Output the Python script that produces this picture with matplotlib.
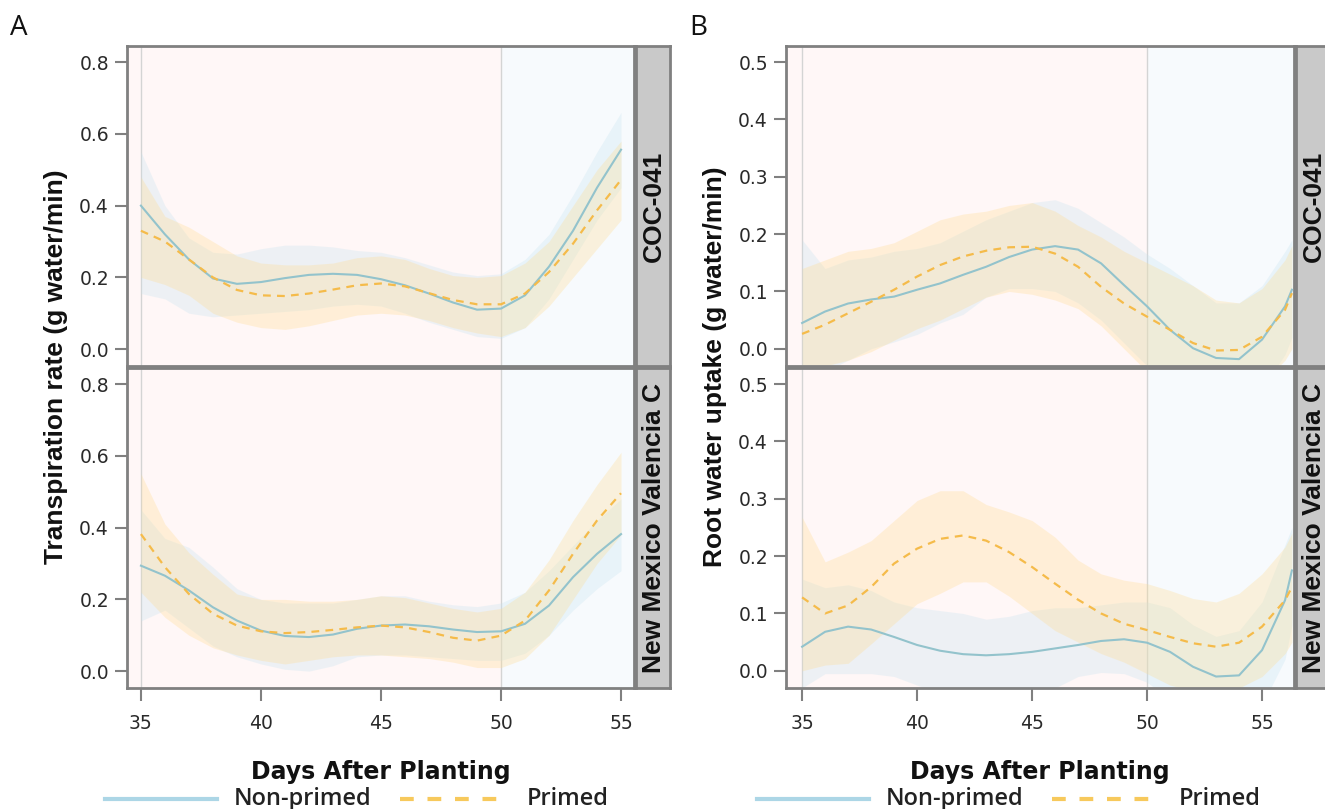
import numpy as np
import matplotlib
matplotlib.use('Agg')
import matplotlib.pyplot as plt
from matplotlib.lines import Line2D
from matplotlib.ticker import FormatStrFormatter

# ---- data ----
days_a = [35, 36, 37, 38, 39, 40, 41, 42, 43, 44, 45, 46, 47, 48, 49, 50, 51, 52, 53, 54, 55]
days_b = [35, 36, 37, 38, 39, 40, 41, 42, 43, 44, 45, 46, 47, 48, 49, 50, 51, 52, 53, 54, 55, 56, 56.3]

# Panel A, COC-041
a_coc_np = [0.40, 0.32, 0.25, 0.197, 0.182, 0.187, 0.198, 0.207, 0.21, 0.207, 0.195, 0.178, 0.155, 0.13, 0.11, 0.113, 0.15, 0.23, 0.33, 0.45, 0.556]
a_coc_np_lo = [0.155, 0.14, 0.10, 0.09, 0.095, 0.10, 0.105, 0.11, 0.12, 0.125, 0.12, 0.10, 0.075, 0.055, 0.035, 0.03, 0.06, 0.14, 0.25, 0.36, 0.45]
a_coc_np_hi = [0.55, 0.40, 0.31, 0.27, 0.265, 0.28, 0.29, 0.29, 0.285, 0.275, 0.27, 0.255, 0.235, 0.215, 0.205, 0.21, 0.25, 0.32, 0.43, 0.55, 0.66]
a_coc_pr = [0.33, 0.30, 0.25, 0.20, 0.165, 0.15, 0.148, 0.155, 0.166, 0.178, 0.183, 0.175, 0.156, 0.137, 0.125, 0.125, 0.155, 0.215, 0.294, 0.387, 0.472]
a_coc_pr_lo = [0.20, 0.18, 0.15, 0.10, 0.075, 0.06, 0.055, 0.065, 0.08, 0.095, 0.10, 0.095, 0.08, 0.06, 0.045, 0.035, 0.06, 0.12, 0.20, 0.28, 0.36]
a_coc_pr_hi = [0.48, 0.37, 0.34, 0.30, 0.26, 0.24, 0.235, 0.235, 0.24, 0.255, 0.26, 0.25, 0.225, 0.205, 0.20, 0.205, 0.24, 0.30, 0.40, 0.50, 0.58]

# Panel A, New Mexico Valencia C
a_nm_np = [0.294, 0.266, 0.225, 0.178, 0.141, 0.113, 0.098, 0.095, 0.102, 0.118, 0.127, 0.13, 0.125, 0.116, 0.109, 0.111, 0.132, 0.183, 0.262, 0.327, 0.382]
a_nm_np_lo = [0.14, 0.17, 0.12, 0.07, 0.04, 0.02, 0.005, 0.0, 0.015, 0.04, 0.045, 0.045, 0.04, 0.035, 0.03, 0.03, 0.05, 0.10, 0.17, 0.23, 0.28]
a_nm_np_hi = [0.45, 0.37, 0.345, 0.29, 0.23, 0.20, 0.19, 0.19, 0.19, 0.20, 0.21, 0.21, 0.195, 0.185, 0.18, 0.19, 0.22, 0.28, 0.35, 0.42, 0.48]
a_nm_pr = [0.382, 0.29, 0.215, 0.16, 0.127, 0.111, 0.106, 0.109, 0.115, 0.122, 0.127, 0.122, 0.109, 0.093, 0.085, 0.099, 0.141, 0.225, 0.327, 0.42, 0.496]
a_nm_pr_lo = [0.22, 0.15, 0.10, 0.065, 0.045, 0.03, 0.02, 0.03, 0.04, 0.045, 0.045, 0.04, 0.035, 0.025, 0.01, 0.01, 0.035, 0.10, 0.20, 0.30, 0.38]
a_nm_pr_hi = [0.55, 0.41, 0.33, 0.27, 0.215, 0.20, 0.20, 0.195, 0.195, 0.20, 0.21, 0.205, 0.19, 0.175, 0.165, 0.175, 0.22, 0.31, 0.42, 0.52, 0.61]

# Panel B, COC-041
b_coc_np = [0.045, 0.065, 0.079, 0.086, 0.091, 0.103, 0.114, 0.129, 0.143, 0.16, 0.173, 0.179, 0.173, 0.149, 0.111, 0.074, 0.033, 0.001, -0.016, -0.018, 0.016, 0.074, 0.103]
b_coc_np_lo = [-0.05, -0.04, -0.02, 0.0, 0.012, 0.025, 0.045, 0.06, 0.09, 0.105, 0.105, 0.10, 0.08, 0.05, 0.01, -0.03, -0.06, -0.08, -0.10, -0.10, -0.07, -0.01, 0.02]
b_coc_np_hi = [0.19, 0.14, 0.155, 0.16, 0.17, 0.175, 0.185, 0.205, 0.225, 0.24, 0.255, 0.26, 0.245, 0.22, 0.195, 0.165, 0.14, 0.11, 0.08, 0.08, 0.11, 0.17, 0.19]
b_coc_pr = [0.026, 0.042, 0.062, 0.082, 0.103, 0.126, 0.146, 0.161, 0.171, 0.177, 0.178, 0.166, 0.143, 0.108, 0.079, 0.056, 0.033, 0.01, -0.003, -0.002, 0.021, 0.068, 0.097]
b_coc_pr_lo = [-0.05, -0.03, -0.02, -0.005, 0.015, 0.035, 0.05, 0.07, 0.09, 0.10, 0.095, 0.085, 0.07, 0.04, 0.0, -0.04, -0.05, -0.06, -0.07, -0.08, -0.06, -0.02, 0.0]
b_coc_pr_hi = [0.14, 0.155, 0.17, 0.175, 0.185, 0.205, 0.225, 0.235, 0.24, 0.25, 0.255, 0.24, 0.215, 0.195, 0.17, 0.15, 0.13, 0.11, 0.085, 0.08, 0.105, 0.155, 0.18]

# Panel B, New Mexico Valencia C
b_nm_np = [0.042, 0.068, 0.077, 0.072, 0.059, 0.045, 0.035, 0.029, 0.027, 0.029, 0.033, 0.039, 0.045, 0.052, 0.055, 0.049, 0.033, 0.007, -0.01, -0.008, 0.036, 0.123, 0.175]
b_nm_np_lo = [-0.03, -0.005, -0.005, -0.005, -0.01, -0.025, -0.04, -0.05, -0.06, -0.05, -0.04, -0.03, -0.01, -0.003, -0.005, -0.02, -0.05, -0.08, -0.10, -0.10, -0.06, 0.02, 0.08]
b_nm_np_hi = [0.16, 0.145, 0.15, 0.14, 0.12, 0.11, 0.105, 0.10, 0.09, 0.095, 0.105, 0.11, 0.11, 0.115, 0.12, 0.12, 0.11, 0.08, 0.06, 0.07, 0.12, 0.22, 0.25]
b_nm_pr = [0.128, 0.10, 0.114, 0.146, 0.187, 0.213, 0.23, 0.236, 0.227, 0.207, 0.181, 0.152, 0.124, 0.10, 0.082, 0.071, 0.059, 0.048, 0.042, 0.049, 0.077, 0.123, 0.146]
b_nm_pr_lo = [0.0, 0.01, 0.013, 0.047, 0.082, 0.117, 0.135, 0.155, 0.155, 0.13, 0.10, 0.07, 0.05, 0.03, 0.015, -0.005, -0.025, -0.035, -0.04, -0.03, -0.01, 0.03, 0.05]
b_nm_pr_hi = [0.268, 0.19, 0.207, 0.227, 0.262, 0.297, 0.314, 0.314, 0.29, 0.277, 0.262, 0.233, 0.193, 0.169, 0.158, 0.152, 0.14, 0.126, 0.12, 0.135, 0.169, 0.216, 0.24]

genotypes = ['COC-041', 'New Mexico Valencia C']
treatments = ['Non-primed', 'Primed']
panel_letters = ['A', 'B']
ylabels = ['Transpiration rate (g water/min)', 'Root water uptake (g water/min)']
stress_start, stress_end = 35, 50

# ---- styling ----
W, H = 1325, 809
NP_LINE, NP_FILL = '#93c3cc', '#c6e3f0'
PR_LINE, PR_FILL = '#f5bb4a', '#ffdc90'
FRAME = '#808080'
INK = '#111111'
plt.rcParams['font.family'] = ['DejaVu Sans']

fig = plt.figure(figsize=(W / 100, H / 100), dpi=100)


def rect(l, t, r, b):
    return [l / W, 1 - b / H, (r - l) / W, (b - t) / H]


def draw_panel(ax, days, np_mid, np_lo, np_hi, pr_mid, pr_lo, pr_hi, xlim, ylim, yticks, show_x):
    ax.set_xlim(*xlim)
    ax.set_ylim(*ylim)
    ax.axvspan(xlim[0], stress_end, color='#fff7f7', zorder=0, lw=0)
    ax.axvspan(stress_end, xlim[1], color='#f7fafd', zorder=0, lw=0)
    ax.axvline(stress_start, color='#d4d4d4', lw=1, zorder=1)
    ax.axvline(stress_end, color='#d4d4d4', lw=1, zorder=1)
    ax.fill_between(days, np_lo, np_hi, color=NP_FILL, alpha=0.3, lw=0, zorder=2)
    ax.fill_between(days, pr_lo, pr_hi, color=PR_FILL, alpha=0.3, lw=0, zorder=2)
    ax.plot(days, np_mid, color=NP_LINE, lw=1.5, zorder=3)
    ax.plot(days, pr_mid, color=PR_LINE, lw=1.6, ls=(0, (3.5, 2.8)), zorder=3)
    for s in ax.spines.values():
        s.set_color(FRAME)
        s.set_linewidth(2)
    ax.set_yticks(yticks)
    ax.yaxis.set_major_formatter(FormatStrFormatter('%.1f'))
    ax.tick_params(axis='both', direction='out', length=9, width=1.5, color=FRAME,
                   labelsize=13.5, labelcolor='#2a2a2a', pad=4)
    ax.set_xticks([35, 40, 45, 50, 55])
    if show_x:
        ax.tick_params(axis='x', pad=10)
    else:
        ax.tick_params(axis='x', length=0, labelbottom=False)


def draw_strip(ax, label):
    ax.set_facecolor('#c9c9c9')
    ax.set_xticks([])
    ax.set_yticks([])
    for s in ax.spines.values():
        s.set_color(FRAME)
        s.set_linewidth(2)
    ax.text(0.52, 0.5, label, rotation=90, ha='center', va='center', fontsize=19,
            fontweight='bold', color=INK, family=['Liberation Sans', 'DejaVu Sans'],
            transform=ax.transAxes)


panels = [
    dict(left=127, right=634, strip_r=670, xlim=(34.42, 55.54), days=days_a,
         ylim=(-0.047, 0.845), yticks=[0.0, 0.2, 0.4, 0.6, 0.8],
         data=[(a_coc_np, a_coc_np_lo, a_coc_np_hi, a_coc_pr, a_coc_pr_lo, a_coc_pr_hi),
               (a_nm_np, a_nm_np_lo, a_nm_np_hi, a_nm_pr, a_nm_pr_lo, a_nm_pr_hi)]),
    dict(left=786, right=1294, strip_r=1330, xlim=(34.30, 56.39), days=days_b,
         ylim=(-0.03, 0.528), yticks=[0.0, 0.1, 0.2, 0.3, 0.4, 0.5],
         data=[(b_coc_np, b_coc_np_lo, b_coc_np_hi, b_coc_pr, b_coc_pr_lo, b_coc_pr_hi),
               (b_nm_np, b_nm_np_lo, b_nm_np_hi, b_nm_pr, b_nm_pr_lo, b_nm_pr_hi)]),
]
rows = [(46, 366), (368, 688)]

for p, letter, ylab, letter_x, leg_x in zip(panels, panel_letters, ylabels, [10, 689], [105, 757]):
    for i, (top, bot) in enumerate(rows):
        ax = fig.add_axes(rect(p['left'], top, p['right'], bot))
        draw_panel(ax, p['days'], *p['data'][i], p['xlim'], p['ylim'], p['yticks'], show_x=(i == 1))
        sax = fig.add_axes(rect(p['right'] + 2, top, p['strip_r'], bot))
        draw_strip(sax, genotypes[i])
        if i == 1:
            ax.set_xlabel('Days After Planting', fontsize=17, fontweight='bold', labelpad=19, color=INK)

    fig.text((p['left'] - 71) / W, 1 - 367 / H, ylab, rotation=90, ha='center', va='center',
             fontsize=19, fontweight='bold', color=INK, family=['Liberation Sans', 'DejaVu Sans'])
    fig.text(letter_x / W, 1 - 28 / H, letter, ha='left', va='center', fontsize=20,
             family=['Open Sans', 'DejaVu Sans'], color=INK)

    # legend row at the bottom of each panel
    y = 1 - 799 / H
    fig.add_artist(Line2D([leg_x / W, (leg_x + 112) / W], [y, y], color='#acd6e6', lw=3))
    fig.text((leg_x + 129) / W, y, treatments[0], ha='left', va='center', fontsize=17,
             family=['Open Sans', 'DejaVu Sans'], fontweight='semibold', color='#222222')
    fig.add_artist(Line2D([(leg_x + 295) / W, (leg_x + 405) / W], [y, y], color='#f7c95c', lw=3,
                          ls=(0, (3.3, 3.3))))
    fig.text((leg_x + 422) / W, y, treatments[1], ha='left', va='center', fontsize=17,
             family=['Open Sans', 'DejaVu Sans'], fontweight='semibold', color='#222222')

fig.savefig('out.png', dpi=100)
